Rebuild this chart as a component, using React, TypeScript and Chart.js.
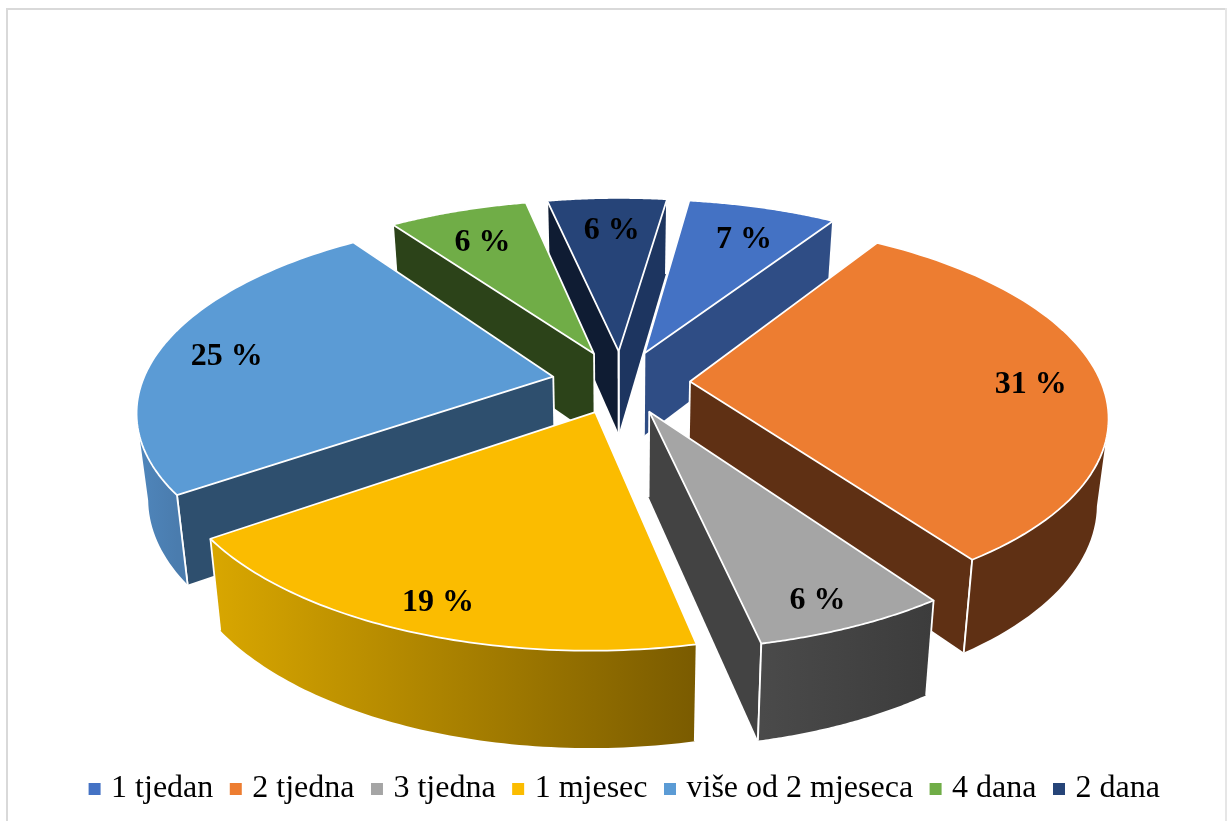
import React, { useEffect, useRef } from "react";
import { Chart, registerables } from "chart.js";

Chart.register(...registerables);

const categories = ["1 tjedan", "2 tjedna", "3 tjedna", "1 mjesec", "više od 2 mjeseca", "4 dana", "2 dana"];
const shares = [6.9, 31.2, 6.3, 18.6, 25.0, 6.45, 5.55];
const topColors = ["#4472C4", "#ED7D31", "#A5A5A5", "#FBBC00", "#5B9BD5", "#70AD47", "#264478"];
const startWallColors = ["#2F4D85", "#5F3014", "#434343", "#7C5C00", "#2E4F6E", "#2C4319", "#0F1C33"];
const endWallColors = ["#2F4D85", "#5F3014", "#434343", "#D6A400", "#2E4F6E", "#2C4319", "#1D3560"];
const rimLeftColors = ["#2F4D85", "#5F3014", "#4A4A4A", "#D9A700", "#4F86BC", "#2C4319", "#1D3560"];
const rimRightColors = ["#2F4D85", "#5F3014", "#3C3C3C", "#7A5B00", "#4A7CAE", "#2C4319", "#1D3560"];
const labelNudges = [[0, 1], [5, -2], [6, 10], [-9, 9], [-5, -3], [3, 1], [3, 0]];

const FIRST_ANGLE = 8;
const EXPLODE = 0.168;
const LABEL_RADIUS = 0.82;
const LABEL_DROP = 8;
const X0 = 621, Y0 = 382, A = 411, B = 188, K = 0.165, SHRINK = 0.976, DEPTH = 84;

const project = (u: number, v: number, down: boolean) => {
  const w = 1 - K * v;
  const s = down ? SHRINK : 1;
  return [X0 + (A * u * s) / w, Y0 + (B * v * s) / w + (down ? DEPTH / w : 0)];
};

const pie3d = {
  id: "pie3d",
  beforeDraw(chart: any) {
    const c = chart.ctx;
    c.save();
    c.fillStyle = "#D9D9D9";
    c.fillRect(6, 8, 2, 813);
    c.fillRect(6, 8, 1220, 2);
    c.fillStyle = "#E6E6E6";
    c.fillRect(1225, 8, 2, 813);
    c.restore();
  },
  beforeDatasetDraw(chart: any) {
    const c = chart.ctx;
    const arcs = chart.getDatasetMeta(0).data.map((arc: any, i: number) => ({ arc, i }));
    arcs.sort((p: any, q: any) => Math.sin((p.arc.startAngle + p.arc.endAngle) / 2) - Math.sin((q.arc.startAngle + q.arc.endAngle) / 2));
    const edge = (a: number[], b: number[]) => {
      c.beginPath();
      c.moveTo(a[0], a[1]);
      c.lineTo(b[0], b[1]);
      c.stroke();
    };
    const poly = (pts: number[][], fill: any) => {
      c.beginPath();
      pts.forEach((p, n) => (n ? c.lineTo(p[0], p[1]) : c.moveTo(p[0], p[1])));
      c.closePath();
      c.fillStyle = fill;
      c.fill();
    };
    const texts: any[] = [];
    for (const { arc, i } of arcs) {
      const mid = (arc.startAngle + arc.endAngle) / 2;
      const ou = EXPLODE * Math.cos(mid);
      const ov = EXPLODE * Math.sin(mid);
      const steps = 72;
      const top: number[][] = [];
      const bot: number[][] = [];
      for (let n = 0; n <= steps; n++) {
        const a = arc.startAngle + ((arc.endAngle - arc.startAngle) * n) / steps;
        const u = Math.cos(a) + ou;
        const v = Math.sin(a) + ov;
        top.push(project(u, v, false));
        bot.push(project(u, v, true));
      }
      const apex = project(ou, ov, false);
      const apexB = project(ou, ov, true);
      c.save();
      c.strokeStyle = "#FFFFFF";
      c.lineWidth = 1.8;
      c.lineJoin = "round";
      const startVisible = top[0][0] < apex[0];
      const endVisible = top[steps][0] > apex[0];
      if (startVisible) {
        poly([apex, top[0], bot[0], apexB], startWallColors[i]);
      }
      if (endVisible) {
        poly([apex, top[steps], bot[steps], apexB], endWallColors[i]);
      }
      if (startVisible) {
        edge(apex, apexB);
        edge(top[0], bot[0]);
      }
      if (endVisible) {
        edge(apex, apexB);
        edge(top[steps], bot[steps]);
      }
      let first = -1;
      let last = -1;
      for (let n = 0; n < steps; n++) {
        if (top[n + 1][0] < top[n][0]) {
          if (first < 0) first = n;
          last = n + 1;
        }
      }
      if (first >= 0) {
        const upper = top.slice(first, last + 1);
        const lower = bot.slice(first, last + 1).reverse();
        const xs = upper.map((p) => p[0]);
        const g = c.createLinearGradient(Math.min(...xs), 0, Math.max(...xs), 0);
        g.addColorStop(0, rimLeftColors[i]);
        g.addColorStop(1, rimRightColors[i]);
        poly([...upper, ...lower], g);
        if (first === 0) edge(top[0], bot[0]);
        if (last === steps) edge(top[steps], bot[steps]);
      }
      poly([apex, ...top], topColors[i]);
      c.stroke();
      c.restore();
      const lp = project(ou + LABEL_RADIUS * Math.cos(mid), ov + LABEL_RADIUS * Math.sin(mid), false);
      texts.push({ x: lp[0] + labelNudges[i][0], y: lp[1] + LABEL_DROP + labelNudges[i][1], t: `${Math.round(shares[i])} %` });
    }
    c.save();
    c.fillStyle = "#000000";
    c.font = "bold 32px 'Liberation Serif'";
    c.textAlign = "center";
    c.textBaseline = "middle";
    texts.forEach((l) => c.fillText(l.t, l.x, l.y));
    c.restore();
    return false;
  },
};

export default function App() {
  const ref = useRef<HTMLCanvasElement>(null);
  useEffect(() => {
    const chart = new Chart(ref.current as HTMLCanvasElement, {
      type: "pie",
      data: {
        labels: categories,
        datasets: [{ data: shares, backgroundColor: topColors, borderWidth: 0 }],
      },
      plugins: [pie3d],
      options: {
        responsive: false,
        animation: false,
        events: [],
        rotation: FIRST_ANGLE,
        layout: { padding: { bottom: 6, left: 26 } },
        plugins: {
          tooltip: { enabled: false },
          legend: {
            position: "bottom",
            labels: {
              color: "#000000",
              usePointStyle: true,
              pointStyle: "rect",
              boxWidth: 1,
              boxHeight: 12,
              padding: 22,
              font: { family: "'Liberation Serif'", size: 32 },
            },
          },
        },
      },
    } as any);
    return () => chart.destroy();
  }, []);
  return <canvas ref={ref} width={1228} height={821} style={{ position: "fixed", left: 0, top: 0, display: "block" }} />;
}
